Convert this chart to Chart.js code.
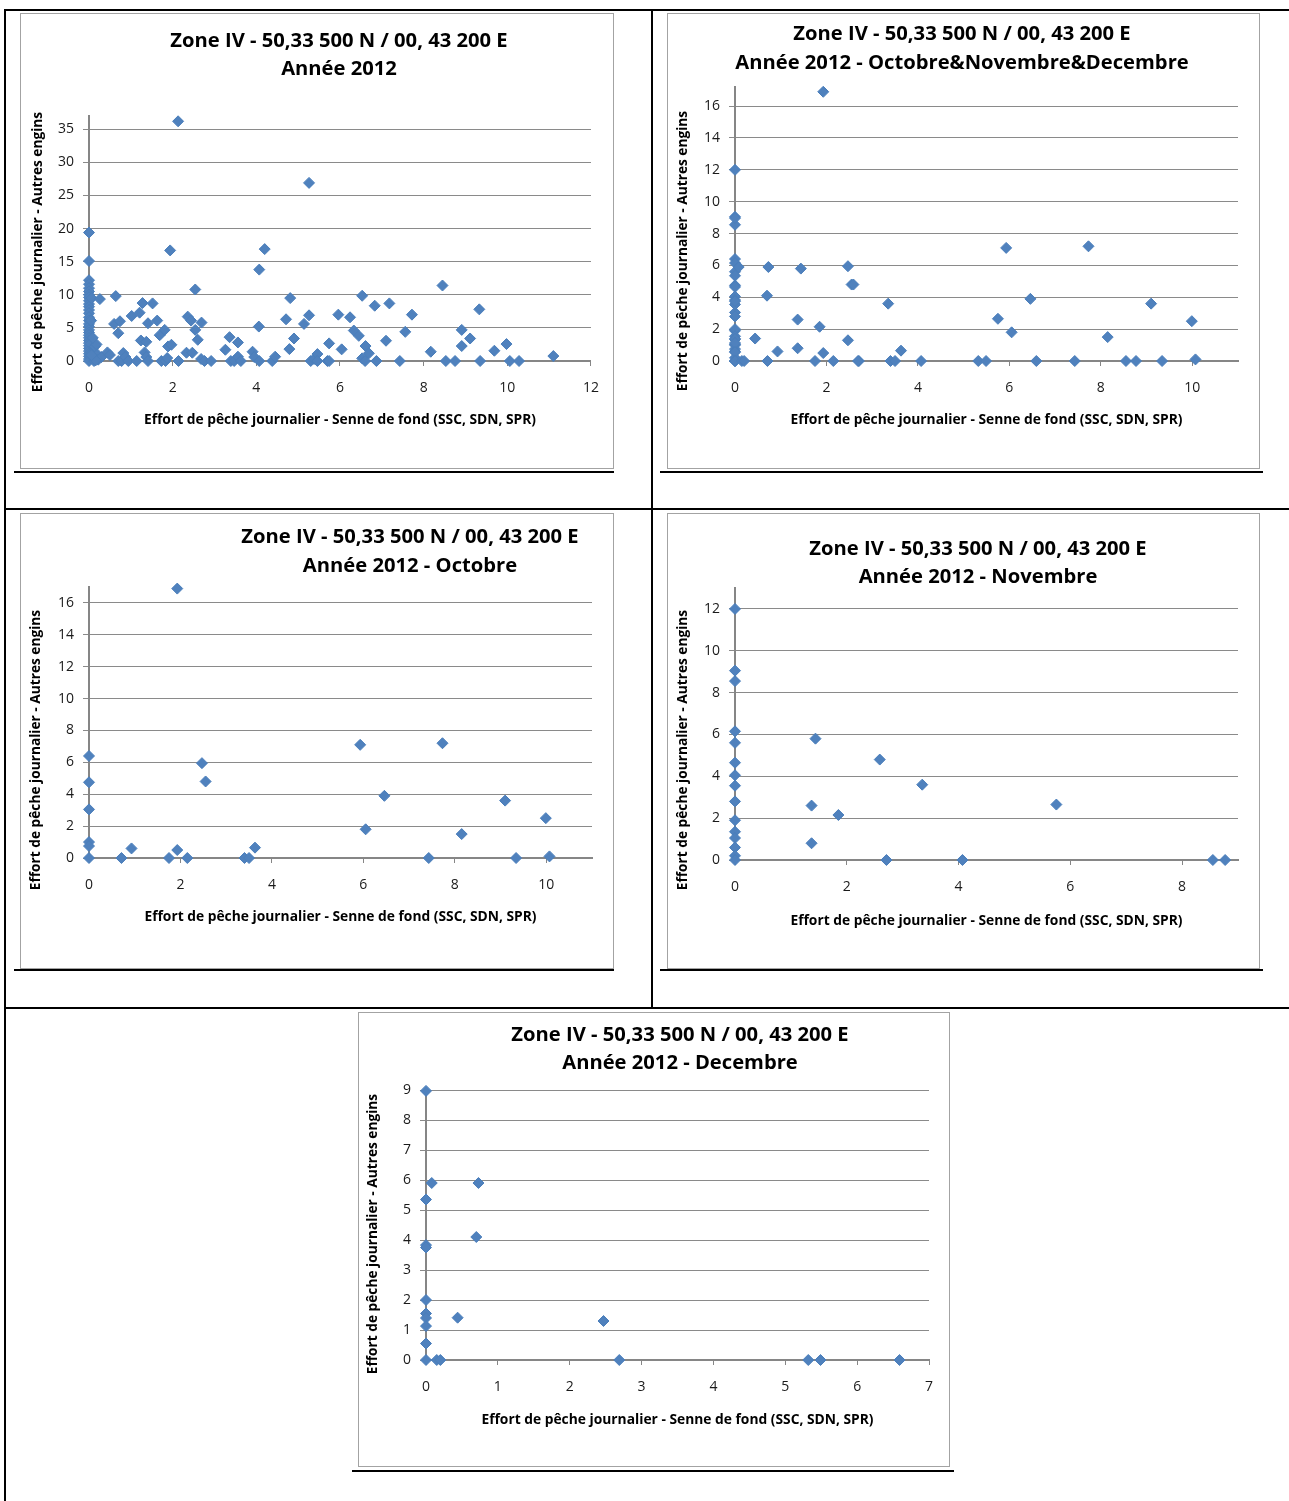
<!DOCTYPE html>
<html lang="fr">
<head>
<meta charset="utf-8">
<title>Zone IV - Effort de pêche journalier 2012</title>
<script src="https://cdn.jsdelivr.net/npm/chart.js@4.4.1/dist/chart.umd.min.js"></script>
<style>
  html, body { margin: 0; padding: 0; background: #fff; }
  body { position: relative; width: 1289px; height: 1501px; overflow: hidden; }
  .rule { position: absolute; background: #000; }
  .box { position: absolute; border: 1px solid #a3a3a3; box-sizing: border-box; background: #fff; }
  .box canvas { position: absolute; left: 0; top: 0; }
</style>
</head>
<body>
<!-- table frame -->
<div class="rule" style="left:4px;top:9px;width:1285px;height:2px"></div>
<div class="rule" style="left:4px;top:9px;width:2px;height:1492px"></div>
<div class="rule" style="left:651px;top:9px;width:2px;height:1000px"></div>
<div class="rule" style="left:4px;top:508px;width:1285px;height:2px"></div>
<div class="rule" style="left:4px;top:1007px;width:1285px;height:2px"></div>
<!-- underlines below each chart -->
<div class="rule" style="left:14px;top:471px;width:600px;height:2px"></div>
<div class="rule" style="left:660px;top:471px;width:603px;height:2px"></div>
<div class="rule" style="left:14px;top:969px;width:600px;height:2px"></div>
<div class="rule" style="left:660px;top:969px;width:603px;height:2px"></div>
<div class="rule" style="left:352px;top:1470px;width:602px;height:2px"></div>

<div class="box" style="left:20px;top:13px;width:594px;height:456px"><canvas id="cAnnee" width="592" height="454"></canvas></div>
<div class="box" style="left:667px;top:13px;width:593px;height:456px"><canvas id="cTrim" width="591" height="454"></canvas></div>
<div class="box" style="left:20px;top:513px;width:594px;height:456px"><canvas id="cOct" width="592" height="454"></canvas></div>
<div class="box" style="left:667px;top:513px;width:593px;height:456px"><canvas id="cNov" width="591" height="454"></canvas></div>
<div class="box" style="left:358px;top:1012px;width:592px;height:455px"><canvas id="cDec" width="590" height="453"></canvas></div>

<script>
// Daily fishing effort, Zone IV, 2012.
// x: bottom seine (SSC, SDN, SPR), y: other gears.

const anneeX = [
  0, 0, 0, 0, 0, 0, 0, 0, 0, 0, 0, 0, 0, 0, 0, 0, 0, 0, 0, 0, 0, 0, 0, 0, 0, 0, 0, 0, 0, 0,
  0.05, 0.06, 0.04, 0.08, 0.1, 0.12, 0.14, 0.18, 0.2, 0.22, 0.26, 0.3, 0.16, 0.06, 0.09,
  0.44, 0.5, 0.6, 0.64, 0.7, 0.74, 0.7, 0.78, 0.82, 0.87, 0.94, 1.02, 1.14, 1.21, 1.24, 1.28,
  1.33, 1.37, 1.37, 1.41, 1.41, 1.52, 1.63, 1.69, 1.73, 1.81, 1.83, 1.87, 1.89, 1.94, 1.97,
  2.13, 2.14, 2.33, 2.36, 2.44, 2.47, 2.54, 2.54, 2.6, 2.69, 2.68, 2.76, 2.92, 3.26, 3.36,
  3.39, 3.47, 3.56, 3.56, 3.63, 3.91, 3.95, 4.06, 4.07, 4.07, 4.2, 4.38, 4.45, 4.71, 4.79,
  4.81, 4.9, 5.14, 5.26, 5.26, 5.3, 5.38, 5.46, 5.46, 5.7, 5.74, 5.74, 5.96, 6.04, 6.24,
  6.33, 6.45, 6.53, 6.53, 6.6, 6.61, 6.69, 6.83, 6.87, 7.1, 7.18, 7.43, 7.56, 7.72, 8.17,
  8.45, 8.53, 8.75, 8.91, 8.91, 9.11, 9.33, 9.35, 9.69, 9.98, 10.06, 10.28, 11.1
];
const anneeY = [
  19.4, 15.1, 12.2, 11.6, 11.0, 10.5, 10.0, 9.6, 9.1, 8.6, 8.2, 7.7, 7.2, 6.6, 6.1, 5.6, 5.2, 4.7, 4.3, 3.9, 3.5, 3.1, 2.7, 2.3, 1.9, 1.5, 1.1, 0.7, 0.3, 0,
  6.1, 9.5, 2.6, 1.3, 0.5, 0, 2.2, 2.5, 1.0, 0.2, 9.35, 0.6, 0.1, 0.9, 3.5,
  1.3, 0.9, 5.6, 9.8, 4.2, 6.0, 0, 0, 1.2, 0.6, 0, 6.8, 0, 7.3, 3.1, 8.75,
  1.3, 2.9, 0.6, 5.7, 0, 8.7, 6.1, 3.9, 0, 4.7, 0, 0.45, 2.2, 16.7, 2.45,
  36.2, 0, 1.25, 6.7, 6.1, 1.25, 10.8, 4.7, 3.2, 5.8, 0.3, 0, 0, 1.7, 3.6,
  0, 0, 2.8, 0.65, 0, 1.4, 0.6, 5.2, 13.8, 0, 16.9, 0, 0.65, 6.3, 1.8,
  9.5, 3.4, 5.6, 6.9, 26.9, 0, 0.3, 1.05, 0, 0, 2.66, 0, 7.0, 1.76, 6.6,
  4.6, 3.8, 9.85, 0.4, 0, 2.26, 1.16, 8.35, 0, 3.06, 8.7, 0, 4.4, 7.0, 1.4,
  11.4, 0, 0, 4.7, 2.26, 3.4, 7.8, 0, 1.55, 2.56, 0, 0, 0.75
];

const octobreX = [0, 0, 0, 0, 0, 0, 0.71, 0.93, 1.75, 1.93, 1.93, 2.15, 2.47, 2.55, 3.4, 3.5, 3.63,
  5.93, 6.05, 6.46, 7.43, 7.73, 8.15, 9.1, 9.34, 9.99, 10.07];
const octobreY = [6.4, 4.75, 3.05, 1.0, 0.75, 0, 0, 0.6, 0, 16.9, 0.5, 0, 5.95, 4.8, 0, 0, 0.65,
  7.1, 1.8, 3.9, 0, 7.2, 1.5, 3.6, 0, 2.5, 0.1];

const novembreX = [0, 0, 0, 0, 0, 0, 0, 0, 0, 0, 0, 0, 0, 0, 0,
  1.44, 2.59, 3.35, 1.37, 1.85, 1.37, 2.71, 4.07, 5.75, 8.55, 8.77];
const novembreY = [12.0, 9.05, 8.55, 6.15, 5.6, 4.65, 4.05, 3.55, 2.8, 1.9, 1.35, 1.05, 0.6, 0.2, 0,
  5.8, 4.8, 3.6, 2.6, 2.15, 0.8, 0, 0, 2.65, 0, 0];

const decembreX = [0, 0.08, 0.73, 0, 0, 0, 0.7, 0, 0, 0, 0, 0.44, 2.47, 0, 0, 0.15, 0.2, 2.69, 5.32, 5.49, 6.59];
const decembreY = [8.97, 5.9, 5.9, 5.35, 3.83, 3.75, 4.1, 2.0, 1.55, 1.4, 1.13, 1.41, 1.3, 0.55, 0, 0, 0, 0, 0, 0, 0];

// the fourth quarter chart gathers the three monthly series
const trimestreX = octobreX.concat(novembreX, decembreX);
const trimestreY = octobreY.concat(novembreY, decembreY);

const titreZone = 'Zone IV - 50,33 500 N / 00, 43 200 E';
const titreAxeX = 'Effort de pêche journalier - Senne de fond (SSC, SDN, SPR)';
const titreAxeY = 'Effort de pêche journalier - Autres engins';

const GRID = '#8a8a8a';
const AXIS = '#868686';
const BLUE = '#4F81BD';
const BLUE_EDGE = '#4A7EBB';

// draws the two-line chart title and the rotated y-axis title
const captions = {
  id: 'captions',
  afterDraw(chart, args, o) {
    const ctx = chart.ctx;
    ctx.save();
    ctx.fillStyle = '#000';
    ctx.textAlign = 'center';
    ctx.textBaseline = 'middle';
    ctx.font = 'bold 20.2px "Open Sans", sans-serif';
    o.lines.forEach((t, i) => ctx.fillText(t, o.tx, o.ty + i * o.gap));
    ctx.translate(o.yx, o.yy);
    ctx.rotate(-Math.PI / 2);
    ctx.font = 'bold 13.7px "Open Sans", sans-serif';
    ctx.fillText(titreAxeY, 0, 0);
    ctx.restore();
  }
};

// major ticks only, from 0 up to the axis maximum
function majorTicks(step) {
  return axis => {
    const out = [];
    for (let k = 0; k * step <= axis.max + 1e-9; k++) out.push({ value: +(k * step).toFixed(6) });
    axis.ticks = out;
  };
}

function scatter(id, s) {
  const cv = document.getElementById(id);
  const W = cv.width, H = cv.height;
  const xFont = { family: 'Open Sans', size: 13.8, weight: 'bold', lineHeight: 1.2 };
  return new Chart(cv, {
    type: 'scatter',
    data: {
      datasets: [{
        data: s.xs.map((x, i) => ({ x: x, y: s.ys[i] })),
        pointStyle: 'rectRot',
        pointRadius: 5.5,
        pointHoverRadius: 5.5,
        backgroundColor: BLUE,
        borderColor: BLUE_EDGE,
        borderWidth: 1,
        clip: false
      }]
    },
    options: {
      responsive: false,
      animation: false,
      events: [],
      layout: { padding: { left: 0, top: s.plot.top, right: W - s.plot.right, bottom: 0 } },
      plugins: {
        legend: { display: false },
        tooltip: { enabled: false },
        title: { display: false },
        captions: { lines: s.lines, tx: s.title[0], ty: s.title[1], gap: s.title[2], yx: s.yTitle[0], yy: s.yTitle[1] }
      },
      scales: {
        x: {
          type: 'linear', position: 'bottom', min: 0, max: s.xMax,
          afterBuildTicks: majorTicks(s.xStep),
          afterFit: sc => { sc.height = H - s.plot.bottom; },
          grid: { drawOnChartArea: false, drawTicks: true, tickLength: 5, color: AXIS, lineWidth: 1 },
          border: { display: true, color: AXIS, width: 2 },
          ticks: { autoSkip: false, maxRotation: 0, padding: 14,
                   color: '#1a1a1a', font: { family: 'Open Sans', size: 14 } },
          title: { display: true, text: titreAxeX, color: '#000', font: xFont,
                   padding: { top: 0, bottom: H - s.xTitleY - 8.3 } }
        },
        y: {
          type: 'linear', position: 'left', min: 0, max: s.yMax,
          afterBuildTicks: majorTicks(s.yStep),
          afterFit: sc => { sc.width = s.plot.left; },
          grid: { drawOnChartArea: true, drawTicks: true, tickLength: 6, color: GRID, lineWidth: 1 },
          border: { display: true, color: AXIS, width: 2 },
          ticks: { autoSkip: false, padding: 9,
                   color: '#1a1a1a', font: { family: 'Open Sans', size: 14 } },
          title: { display: false }
        }
      }
    },
    plugins: [captions]
  });
}

scatter('cAnnee', {
  xs: anneeX, ys: anneeY, xMax: 12, xStep: 2, yMax: 37, yStep: 5,
  plot: { left: 68, right: 572, top: 102, bottom: 347 },
  lines: [titreZone, 'Année 2012'], title: [318, 27, 28], yTitle: [17, 238], xTitleY: 406
});
scatter('cTrim', {
  xs: trimestreX, ys: trimestreY, xMax: 11, xStep: 2, yMax: 17.2, yStep: 2,
  plot: { left: 67, right: 570, top: 73, bottom: 347 },
  lines: [titreZone, 'Année 2012 - Octobre&Novembre&Decembre'], title: [294, 20, 29], yTitle: [15, 237], xTitleY: 406
});
scatter('cOct', {
  xs: octobreX, ys: octobreY, xMax: 11, xStep: 2, yMax: 17, yStep: 2,
  plot: { left: 68, right: 571, top: 73, bottom: 344 },
  lines: [titreZone, 'Année 2012 - Octobre'], title: [389, 23, 29], yTitle: [15, 236], xTitleY: 403
});
scatter('cNov', {
  xs: novembreX, ys: novembreY, xMax: 9, xStep: 2, yMax: 13, yStep: 2,
  plot: { left: 67, right: 570, top: 74, bottom: 346 },
  lines: [titreZone, 'Année 2012 - Novembre'], title: [310, 35, 28], yTitle: [15, 236], xTitleY: 407
});
scatter('cDec', {
  xs: decembreX, ys: decembreY, xMax: 7, xStep: 1, yMax: 9, yStep: 1,
  plot: { left: 67, right: 570, top: 77, bottom: 347 },
  lines: [titreZone, 'Année 2012 - Decembre'], title: [321, 22, 28], yTitle: [14, 221], xTitleY: 407
});
</script>
</body>
</html>
